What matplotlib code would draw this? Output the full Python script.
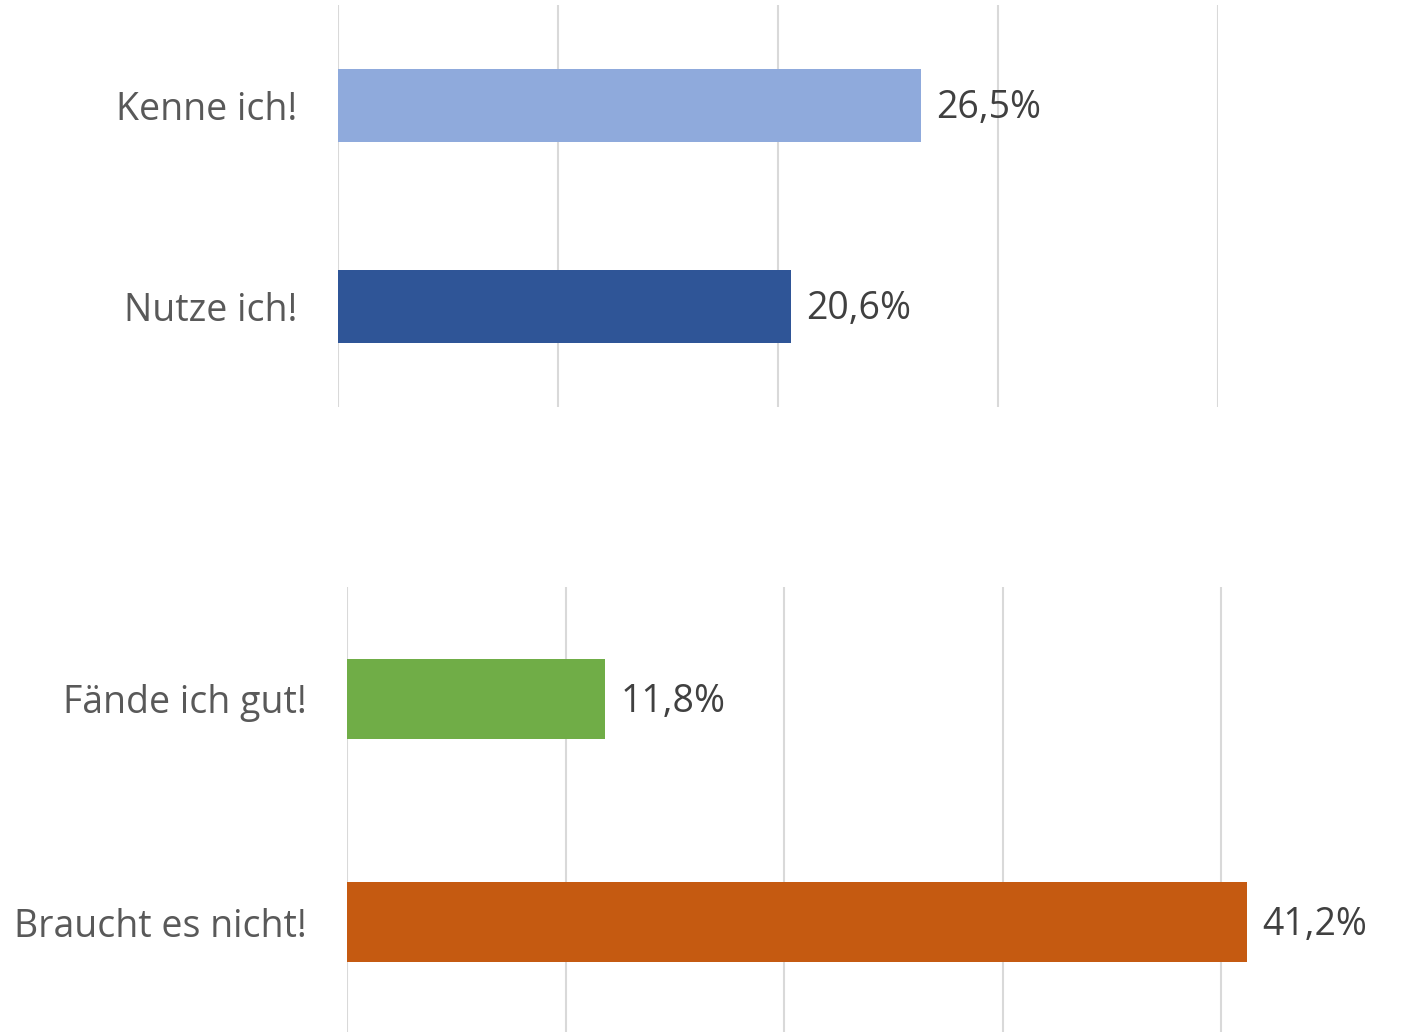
import matplotlib
matplotlib.use("Agg")
import matplotlib.pyplot as plt

top_categories = ["Kenne ich!", "Nutze ich!"]
top_values = [26.5, 20.6]
top_colors = ["#8FAADC", "#2F5597"]

bottom_categories = ["Fände ich gut!", "Braucht es nicht!"]
bottom_values = [11.8, 41.2]
bottom_colors = ["#70AD47", "#C55A11"]

grid_ticks = [0, 10, 20, 30, 40]

plt.rcParams['font.family'] = ['Open Sans', 'DejaVu Sans']

W, H = 1427, 1032
fig = plt.figure(figsize=(W / 100, H / 100), dpi=100)

def make_axes(px_left, px_right, px_top, px_bottom):
    return fig.add_axes([px_left / W, 1 - px_bottom / H,
                         (px_right - px_left) / W, (px_bottom - px_top) / H])

ax1 = make_axes(338, 1218, 5, 407)
ax2 = make_axes(347, 347 + 42 * 21.85, 587, 1034)

def draw(ax, cats, vals, cols, xmax):
    y = list(range(len(cats)))
    ax.barh(y, vals, height=0.36, color=cols, zorder=3)
    ax.set_xlim(0, xmax)
    ax.set_ylim(len(cats) - 0.5, -0.5)
    ax.set_yticks(y)
    ax.set_yticklabels(cats, fontsize=27, color="#595959")
    ax.tick_params(axis="y", length=0, pad=29)
    ax.set_xticks(grid_ticks)
    ax.tick_params(axis="x", length=0, labelbottom=False)
    for t in grid_ticks:
        ax.axvline(t, color="#D9D9D9", lw=1.5, zorder=1)
    for s in ax.spines.values():
        s.set_visible(False)
    for yi, v in zip(y, vals):
        ax.annotate(f"{v:.1f}%".replace(".", ","), (v, yi), xytext=(11, -2),
                    textcoords="offset points", va="center", ha="left",
                    fontsize=27, color="#404040")

draw(ax1, top_categories, top_values, top_colors, 40)
draw(ax2, bottom_categories, bottom_values, bottom_colors, 42)

fig.savefig("out.png", dpi=100)
